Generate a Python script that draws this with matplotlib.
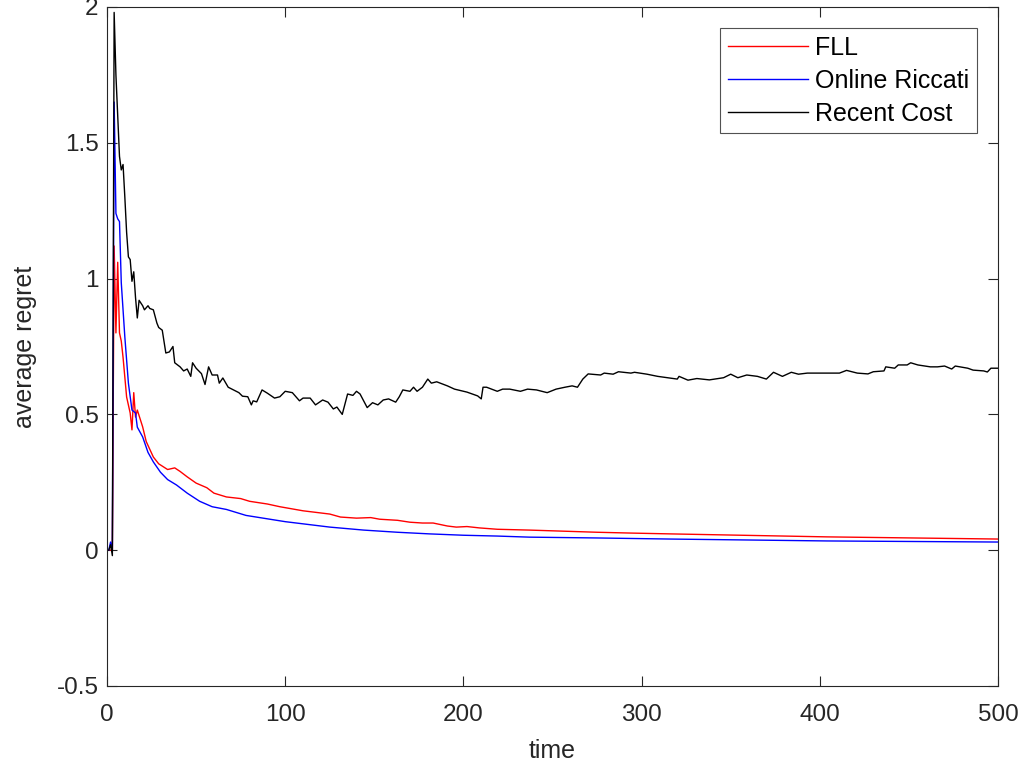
import matplotlib
matplotlib.use("Agg")
import matplotlib.pyplot as plt

# values
fll_t = [1, 2, 3, 4, 5, 6, 7, 8, 9, 11, 13, 14, 15, 16, 17, 20, 22, 26, 29, 34, 38,
         41, 45, 50, 56, 60, 67, 75, 80, 90, 97, 110, 125, 131, 140, 148, 153, 163,
         170, 177, 183, 191, 196, 202, 209, 219, 237, 256, 275, 294, 316, 404, 500]
fll_v = [0.0, 0.0, 0.0, 1.12, 0.80, 1.06, 0.80, 0.77, 0.71, 0.564, 0.505, 0.443,
         0.58, 0.49, 0.516, 0.454, 0.40, 0.343, 0.318, 0.297, 0.303, 0.29, 0.27,
         0.247, 0.23, 0.21, 0.196, 0.19, 0.18, 0.17, 0.16, 0.145, 0.133, 0.122,
         0.118, 0.12, 0.114, 0.11, 0.103, 0.10, 0.10, 0.089, 0.085, 0.087, 0.082,
         0.077, 0.074, 0.07, 0.066, 0.063, 0.06, 0.049, 0.041]

ric_t = [1, 2, 3, 4, 5, 6, 7, 8, 10, 12, 14, 16, 17, 20, 23, 26, 30, 34, 39, 45,
         52, 59, 67, 78, 100, 125, 144, 163, 181, 200, 219, 237, 275, 316, 404, 500]
ric_v = [0.0, 0.03, 0.0, 1.65, 1.24, 1.22, 1.21, 0.985, 0.785, 0.615, 0.516,
         0.505, 0.453, 0.417, 0.36, 0.325, 0.287, 0.26, 0.24, 0.21, 0.18, 0.16,
         0.15, 0.128, 0.105, 0.085, 0.074, 0.066, 0.06, 0.055, 0.052, 0.048,
         0.045, 0.041, 0.034, 0.030]

rec_t = [1, 2, 3, 4, 5, 6, 7, 8, 9, 10, 11, 12, 13, 14, 15, 16, 17, 18, 19, 20, 21,
         23, 24, 26, 28, 29, 31, 33, 35, 37, 38, 41, 43, 45, 47, 48, 50, 53, 55, 57,
         59, 62, 63, 65, 68, 71, 74, 76, 79, 81, 82, 84, 87, 90, 94, 97, 100, 104,
         108, 110, 114, 117, 121, 124, 127, 129, 132, 135, 138, 140, 142, 146, 149,
         152, 155, 158, 162, 164, 166, 170, 172, 174, 177, 180, 182, 185, 191, 195,
         202, 208, 210, 211, 213, 219, 222, 226, 232, 236, 241, 247, 252, 257, 261,
         264, 267, 270, 277, 279, 284, 287, 294, 296, 303, 309, 320, 321, 326, 331,
         338, 346, 350, 354, 359, 365, 370, 374, 379, 384, 388, 393, 398, 404, 411,
         415, 421, 427, 430, 436, 437, 442, 444, 449, 451, 455, 462, 466, 470, 474,
         476, 483, 486, 492, 494, 496, 500]
rec_v = [0.0, 0.02, -0.02, 1.98, 1.75, 1.60, 1.45, 1.40, 1.42, 1.30, 1.17, 1.08,
         1.07, 0.99, 1.025, 0.93, 0.855, 0.92, 0.91, 0.90, 0.885, 0.90, 0.89,
         0.885, 0.836, 0.82, 0.81, 0.726, 0.73, 0.75, 0.69, 0.675, 0.66, 0.667,
         0.64, 0.69, 0.67, 0.65, 0.61, 0.675, 0.645, 0.645, 0.615, 0.634, 0.60,
         0.59, 0.58, 0.567, 0.565, 0.535, 0.55, 0.546, 0.59, 0.578, 0.56, 0.565,
         0.585, 0.58, 0.55, 0.56, 0.56, 0.535, 0.553, 0.545, 0.52, 0.527, 0.50,
         0.575, 0.57, 0.585, 0.575, 0.525, 0.543, 0.535, 0.553, 0.557, 0.545,
         0.565, 0.59, 0.585, 0.60, 0.585, 0.60, 0.63, 0.615, 0.62, 0.605, 0.593,
         0.582, 0.568, 0.557, 0.60, 0.60, 0.585, 0.593, 0.593, 0.585, 0.593, 0.59,
         0.58, 0.593, 0.60, 0.605, 0.60, 0.63, 0.649, 0.645, 0.652, 0.648, 0.657,
         0.652, 0.655, 0.648, 0.64, 0.63, 0.64, 0.626, 0.632, 0.627, 0.635, 0.648,
         0.635, 0.645, 0.64, 0.63, 0.655, 0.64, 0.655, 0.648, 0.652, 0.652, 0.652,
         0.652, 0.662, 0.652, 0.649, 0.657, 0.66, 0.675, 0.67, 0.682, 0.682, 0.69,
         0.682, 0.675, 0.675, 0.678, 0.667, 0.678, 0.67, 0.663, 0.66, 0.656, 0.67,
         0.67]

x_ticks = [0, 100, 200, 300, 400, 500]
y_ticks = [-0.5, 0, 0.5, 1, 1.5, 2]
y_tick_labels = ["-0.5", "0", "0.5", "1", "1.5", "2"]

grey = "#262626"
plt.rcParams["font.family"] = ["Liberation Sans", "DejaVu Sans"]

fig = plt.figure(figsize=(10.27, 7.76), dpi=100)
ax = fig.add_axes([0.1042, 0.116, 0.8676, 0.875])

ax.plot(fll_t, fll_v, color="red", lw=1.0, label="FLL")
ax.plot(ric_t, ric_v, color="blue", lw=1.0, label="Online Riccati")
ax.plot(rec_t, rec_v, color="black", lw=1.0, label="Recent Cost")

ax.set_xlim(0, 500)
ax.set_ylim(-0.5, 2)
ax.set_xticks(x_ticks)
ax.set_yticks(y_ticks)
ax.set_yticklabels(y_tick_labels)
ax.tick_params(direction="in", length=7, width=0.8, top=True, right=True,
               labelsize=17.5, colors=grey)
ax.tick_params(axis="x", pad=13)
ax.tick_params(axis="y", pad=6)
for s in ax.spines.values():
    s.set_color(grey)
    s.set_linewidth(0.8)

ax.set_xlabel("time", fontsize=18, color=grey, labelpad=9)
ax.set_ylabel("average regret", fontsize=18, color=grey, labelpad=14)

leg = ax.legend(loc="upper right", bbox_to_anchor=(0.9764, 0.969),
                borderaxespad=0, fontsize=18, frameon=True, fancybox=False,
                handlelength=3.2, handletextpad=0.3, labelspacing=0.36,
                borderpad=0.3)
leg.get_frame().set_edgecolor(grey)
leg.get_frame().set_linewidth(0.8)

fig.savefig("out.png", dpi=100)
